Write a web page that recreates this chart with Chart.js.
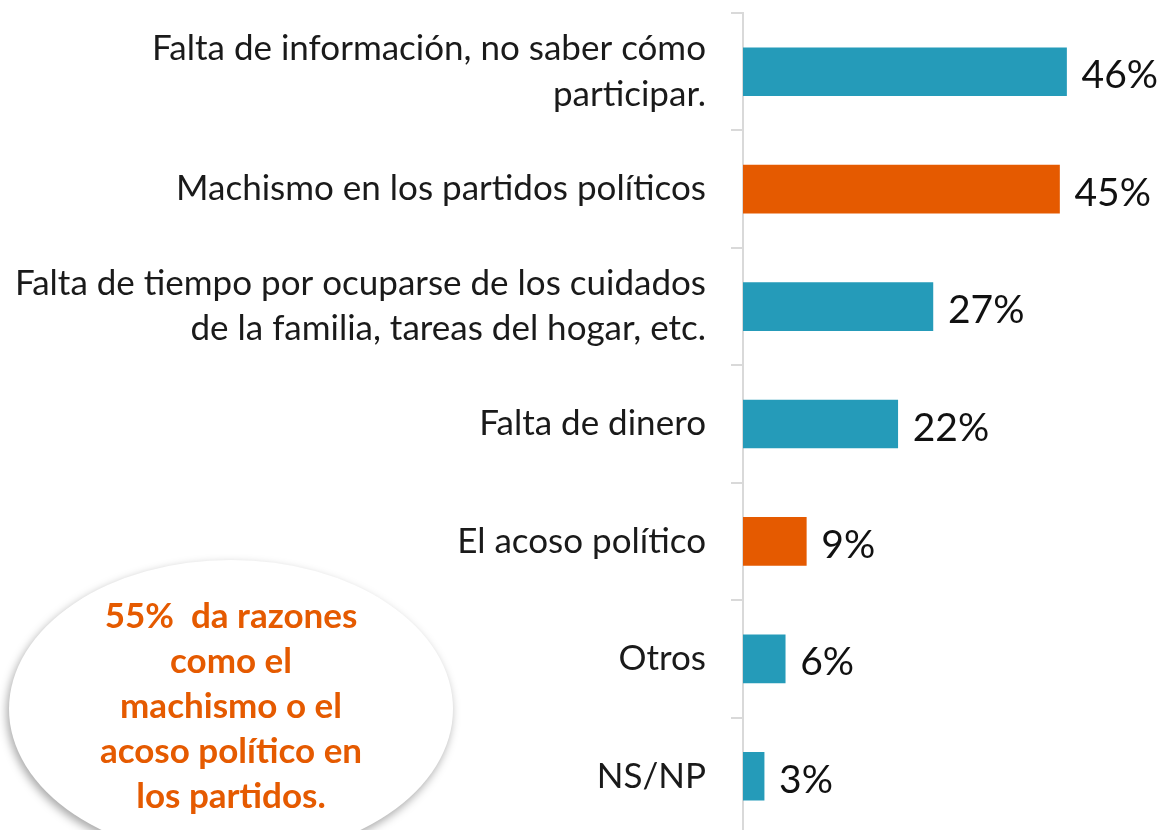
<!DOCTYPE html>
<html>
<head>
<meta charset="utf-8">
<script src="https://cdn.jsdelivr.net/npm/chart.js@4/dist/chart.umd.min.js"></script>
<style>
  html, body { margin: 0; padding: 0; background: #fff; overflow: hidden; }
  #wrap { position: relative; width: 1166px; height: 848px; }
</style>
</head>
<body>
<div id="wrap"><canvas id="razonesChart"></canvas></div>
<script>
const categories = [
    ['Falta de información, no saber cómo', 'participar.'],
    'Machismo en los partidos políticos',
    ['Falta de tiempo por ocuparse de los cuidados', 'de la familia, tareas del hogar, etc.'],
    'Falta de dinero',
    'El acoso político',
    'Otros',
    'NS/NP',
];
const values = [46, 45, 27, 22, 9, 6, 3];
const barColors = ['#259bb9', '#e55a00', '#259bb9', '#259bb9', '#e55a00', '#259bb9', '#259bb9'];
const calloutLines = ['55%  da razones', 'como el', 'machismo o el', 'acoso político en', 'los partidos.'];

const fontFamily = 'Lato, "Open Sans", sans-serif';

// white ellipse with the callout text, bottom left
const calloutPlugin = {
    id: 'callout',
    afterDraw(chart) {
        const ctx = chart.ctx;
        ctx.save();
        ctx.shadowColor = 'rgba(0,0,0,0.35)';
        ctx.shadowBlur = 10;
        ctx.shadowOffsetX = -2;
        ctx.shadowOffsetY = 4;
        ctx.fillStyle = '#ffffff';
        ctx.beginPath();
        ctx.ellipse(231, 709, 222, 149, 0, 0, Math.PI * 2);
        ctx.fill();
        ctx.restore();

        ctx.save();
        ctx.fillStyle = '#e55a00';
        ctx.font = 'bold 35px ' + fontFamily;
        ctx.textAlign = 'center';
        ctx.textBaseline = 'middle';
        calloutLines.forEach((line, i) => {
            ctx.fillText(line, 231, 617 + i * 45);
        });
        ctx.restore();
    },
};

// percentage labels at the end of each bar
const valueLabels = {
    id: 'valueLabels',
    afterDatasetsDraw(chart) {
        const ctx = chart.ctx;
        const meta = chart.getDatasetMeta(0);
        ctx.save();
        ctx.fillStyle = '#111';
        ctx.font = '39px ' + fontFamily;
        ctx.textAlign = 'left';
        ctx.textBaseline = 'middle';
        meta.data.forEach((bar, i) => {
            ctx.fillText(values[i] + '%', bar.x + 15, bar.y + 4);
        });
        ctx.restore();
    },
};

const ctx = document.getElementById('razonesChart').getContext('2d');
const razonesChart = new Chart(ctx, {
    type: 'bar',
    data: {
        labels: categories,
        datasets: [
            {
                data: values,
                backgroundColor: barColors,
                borderWidth: 0,
                barThickness: 48,
            },
        ],
    },
    options: {
        indexAxis: 'y',
        responsive: true,
        maintainAspectRatio: false,
        animation: false,
        layout: {
            padding: { top: 13, bottom: 13, right: 1, left: 0 },
        },
        plugins: {
            legend: { display: false },
            tooltip: { enabled: false },
        },
        scales: {
            x: {
                display: false,
                min: 0,
                max: 60,
            },
            y: {
                afterFit(scale) {
                    scale.width = 743; // keep the axis line where it is in the original
                    scale.paddingTop = 0;
                    scale.paddingBottom = 0;
                },
                border: {
                    color: '#d9d9d9',
                    width: 2,
                },
                grid: {
                    drawOnChartArea: false,
                    color: '#d9d9d9',
                    lineWidth: 2,
                    tickLength: 12,
                },
                ticks: {
                    color: '#1a1a1a',
                    padding: 25,
                    font: { family: fontFamily, size: 35, lineHeight: 1.29 },
                },
            },
        },
    },
    plugins: [valueLabels, calloutPlugin],
});
</script>
</body>
</html>
